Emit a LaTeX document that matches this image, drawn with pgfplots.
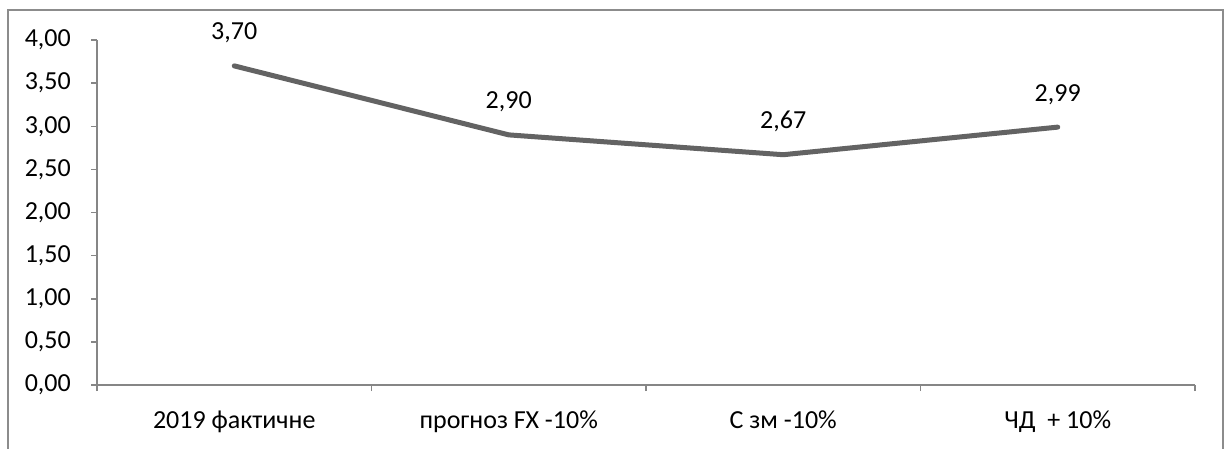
\documentclass[border=0pt]{standalone}
\usepackage{fontspec}
\setmainfont{Carlito}
\usepackage{pgfplots}
\pgfplotsset{compat=1.18}
\definecolor{seriesgray}{HTML}{636363}
\definecolor{axisgray}{HTML}{868686}
\definecolor{framegray}{HTML}{8C8C8C}
\begin{document}
\fontsize{26}{31}\selectfont
\begin{tikzpicture}[x=1pt,y=1pt]
\useasboundingbox (0,0) rectangle (1225,448);
% chart frame
\draw[framegray, line width=2pt] (8,-5) -- (8,438) -- (1223,438) -- (1223,-5);
\begin{axis}[
  at={(97pt,63pt)}, anchor=south west,
  scale only axis, width=1098pt, height=345pt,
  xmin=-0.5, xmax=3.5, ymin=0, ymax=4,
  axis x line*=bottom, axis y line*=left,
  axis line style={draw=axisgray, line width=1.5pt, -},
  ytick={0,0.5,...,4},
  xtick={0,1,2,3},
  xticklabels={2019 фактичне, прогноз FX -10\%, С зм -10\%, ЧД~ + 10\%},
  minor xtick={-0.5,0.5,1.5,2.5,3.5},
  tick align=outside,
  major tick length=6pt, minor tick length=6pt,
  major x tick style={draw=none},
  tick style={draw=axisgray, line width=1.5pt},
  /pgf/number format/assume math mode=true,
  /pgf/number format/use comma,
  /pgf/number format/fixed,
  /pgf/number format/fixed zerofill,
  /pgf/number format/precision=2,
  yticklabel style={anchor=east, inner sep=0pt, xshift=-20pt},
  xticklabel style={anchor=base, inner sep=0pt, yshift=-37pt},
  clip=false,
]
\addplot[seriesgray, line width=5pt, line cap=round, line join=round, mark=none,
  nodes near coords, point meta=y,
  every node near coord/.style={anchor=base, inner sep=0pt, yshift=26pt, text=black}]
  coordinates {(0,3.70) (1,2.90) (2,2.67) (3,2.99)};
\end{axis}
\end{tikzpicture}
\end{document}
